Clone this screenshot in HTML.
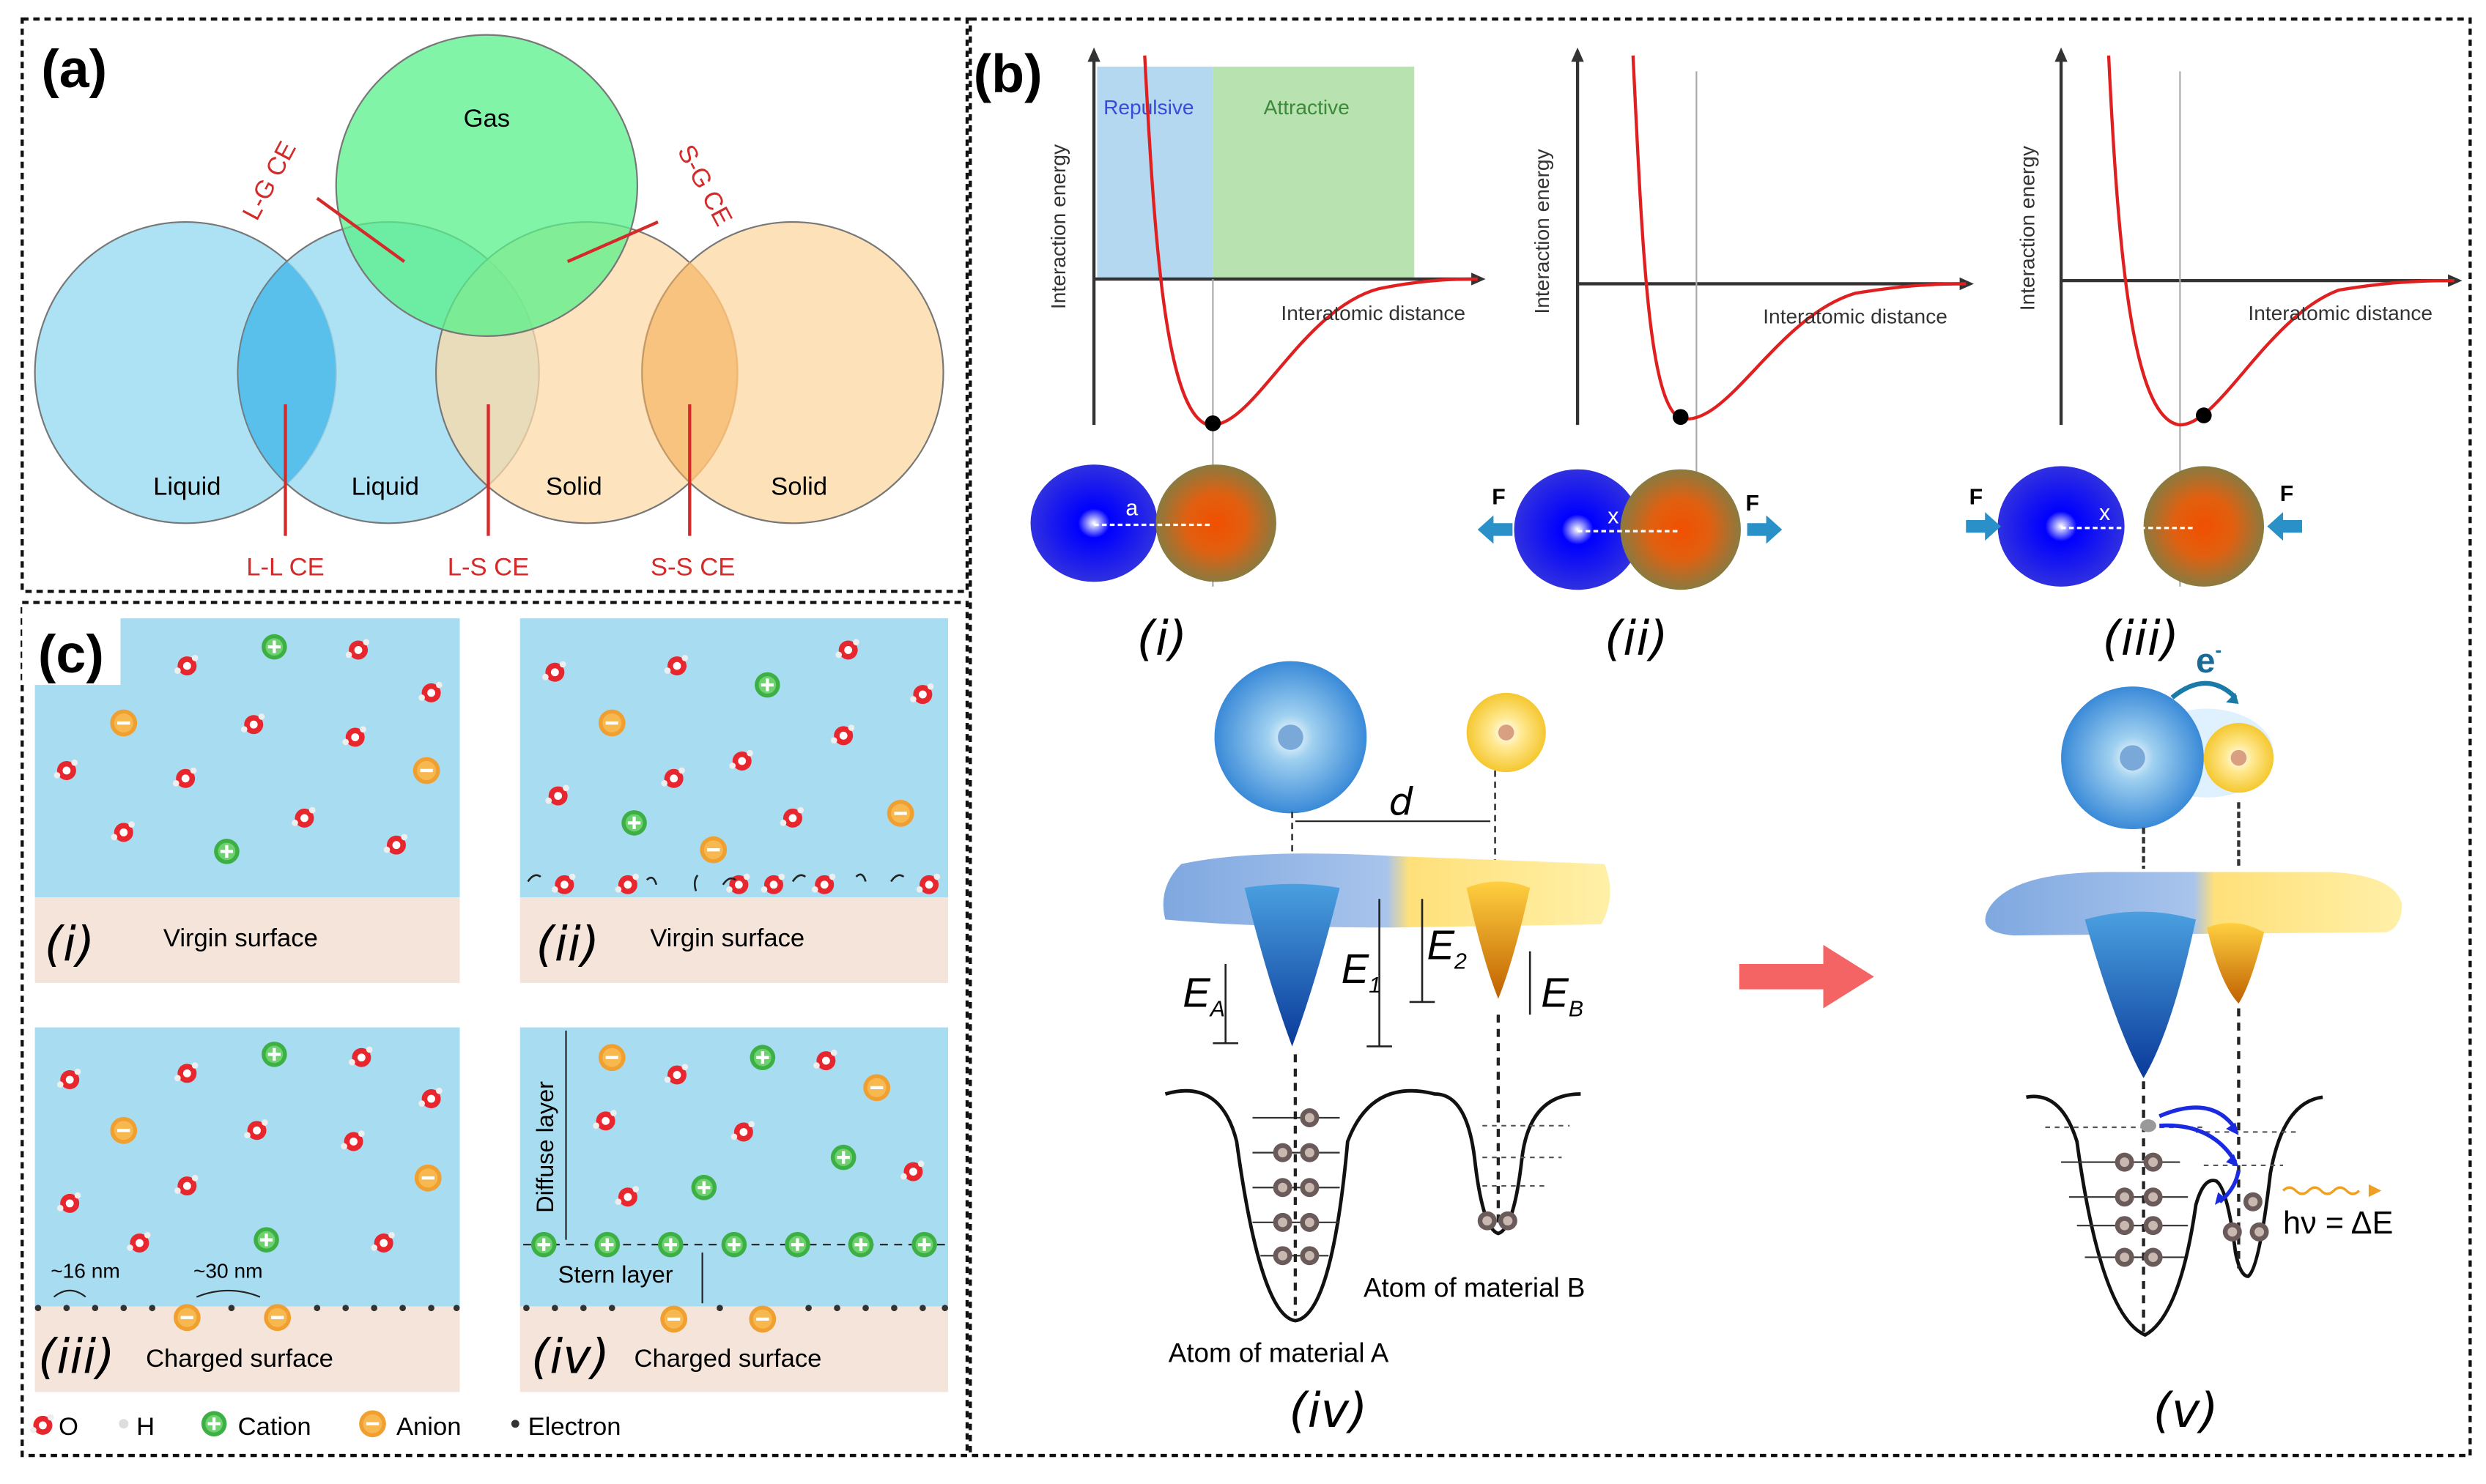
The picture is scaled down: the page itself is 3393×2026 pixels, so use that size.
<!DOCTYPE html>
<html><head><meta charset="utf-8"><style>
html,body{margin:0;padding:0;background:#fff;}
svg{display:block;}
text{font-family:"Liberation Sans",sans-serif;}
.it{font-family:"DejaVu Sans","Liberation Sans",sans-serif;font-style:italic;}
</style></head><body>
<svg width="3393" height="2026" viewBox="0 0 1568 936" preserveAspectRatio="none" xmlns="http://www.w3.org/2000/svg">
<defs>
<radialGradient id="gb"><stop offset="0" stop-color="#fff"/><stop offset="0.25" stop-color="#0000ff"/><stop offset="1" stop-color="#3030e0"/></radialGradient>
<radialGradient id="go"><stop offset="0" stop-color="#f05000"/><stop offset="0.5" stop-color="#e06010"/><stop offset="1" stop-color="#8a7a40"/></radialGradient>
<radialGradient id="gbl"><stop offset="0" stop-color="#fff"/><stop offset="0.3" stop-color="#9fd0f0"/><stop offset="1" stop-color="#3a8ad8"/></radialGradient>
<radialGradient id="gy"><stop offset="0" stop-color="#fff"/><stop offset="0.4" stop-color="#ffe890"/><stop offset="1" stop-color="#f5c830"/></radialGradient>
<linearGradient id="gsurf" x1="0" x2="1"><stop offset="0" stop-color="#7fa8e0"/><stop offset="0.5" stop-color="#a8c4ec"/><stop offset="0.55" stop-color="#ffe07a"/><stop offset="1" stop-color="#fff0a8"/></linearGradient>
<linearGradient id="gwa" x1="0" y1="0" x2="0" y2="1"><stop offset="0" stop-color="#4aa0e0"/><stop offset="1" stop-color="#0a3a9a"/></linearGradient>
<linearGradient id="gwb" x1="0" y1="0" x2="0" y2="1"><stop offset="0" stop-color="#ffd040"/><stop offset="1" stop-color="#c06000"/></linearGradient>
<g id="w"><circle r="6" fill="#e8262e"/><circle r="2.5" fill="#fff"/><circle cx="-6" cy="3" r="2" fill="#eee"/><circle cx="5" cy="-5" r="2" fill="#eee"/></g>
<g id="cat"><circle r="8" fill="#3cb044"/><circle r="5.5" fill="#6fd070"/><path d="M-4 0H4M0 -4V4" stroke="#fff" stroke-width="2"/></g>
<g id="an"><circle r="8.5" fill="#f0a030"/><circle r="6" fill="#f8b850"/><path d="M-4 0H4" stroke="#fff" stroke-width="2"/></g>
<g id="el"><circle r="6" fill="#6a5a5a"/><circle r="3" fill="#c8b8b0"/></g>
</defs>

<g fill="none" stroke="#111" stroke-width="2" stroke-dasharray="4,3">
<rect x="14" y="12" width="596" height="361"/>
<rect x="14" y="380" width="596" height="538"/>
<rect x="612" y="12" width="946" height="906"/>
</g>

<g stroke="#777" stroke-width="1">
<circle cx="117" cy="235" r="95" fill="#9fdcf2" fill-opacity="0.85"/>
<circle cx="245" cy="235" r="95" fill="#9fdcf2" fill-opacity="0.85"/>
<circle cx="370" cy="235" r="95" fill="#fcd9a8" fill-opacity="0.75"/>
<circle cx="500" cy="235" r="95" fill="#fcd9a8" fill-opacity="0.8"/>
<circle cx="307" cy="117" r="95" fill="#58f08a" fill-opacity="0.75"/>
</g>
<path d="M181 165 A95 95 0 0 1 181 305 A95 95 0 0 1 181 165Z" fill="#3ab4e8" opacity="0.7"/>
<path d="M435 165 A95 95 0 0 1 435 305 A95 95 0 0 1 435 165Z" fill="#f5b060" opacity="0.6"/>
<text x="26" y="55" font-size="34" font-weight="bold">(a)</text>
<text x="307" y="80" font-size="16" text-anchor="middle">Gas</text>
<text x="118" y="312" font-size="16" text-anchor="middle">Liquid</text>
<text x="243" y="312" font-size="16" text-anchor="middle">Liquid</text>
<text x="362" y="312" font-size="16" text-anchor="middle">Solid</text>
<text x="504" y="312" font-size="16" text-anchor="middle">Solid</text>
<g stroke="#d42a2a" stroke-width="2">
<line x1="180" y1="255" x2="180" y2="338"/><line x1="308" y1="255" x2="308" y2="338"/><line x1="435" y1="255" x2="435" y2="338"/>
<line x1="200" y1="125" x2="255" y2="165"/><line x1="415" y1="140" x2="358" y2="165"/>
</g>
<g fill="#d42a2a" font-size="16">
<text x="180" y="363" text-anchor="middle">L-L CE</text><text x="308" y="363" text-anchor="middle">L-S CE</text><text x="437" y="363" text-anchor="middle">S-S CE</text>
<text transform="translate(162,140) rotate(-62)">L-G CE</text>
<text transform="translate(427,95) rotate(62)">S-G CE</text>
</g>

<g>
<rect x="22" y="390" width="268" height="176" fill="#a8dcf0"/><rect x="22" y="566" width="268" height="54" fill="#f5e4da"/>
<rect x="328" y="390" width="270" height="176" fill="#a8dcf0"/><rect x="328" y="566" width="270" height="54" fill="#f5e4da"/>
<rect x="22" y="648" width="268" height="176" fill="#a8dcf0"/><rect x="22" y="824" width="268" height="54" fill="#f5e4da"/>
<rect x="328" y="648" width="270" height="176" fill="#a8dcf0"/><rect x="328" y="824" width="270" height="54" fill="#f5e4da"/>
<rect x="14" y="382" width="62" height="50" fill="#fff"/>
</g>
<text x="24" y="424" font-size="34" font-weight="bold">(c)</text>
<use href="#w" x="118" y="420"/><use href="#w" x="226" y="410"/><use href="#w" x="272" y="437"/><use href="#w" x="42" y="486"/><use href="#w" x="117" y="491"/><use href="#w" x="160" y="457"/><use href="#w" x="224" y="465"/><use href="#w" x="78" y="525"/><use href="#w" x="192" y="516"/><use href="#w" x="250" y="533"/>
<use href="#cat" x="173" y="408"/><use href="#cat" x="143" y="537"/><use href="#an" x="78" y="456"/><use href="#an" x="269" y="486"/>
<use href="#w" x="350" y="424"/><use href="#w" x="427" y="420"/><use href="#w" x="535" y="410"/><use href="#w" x="582" y="438"/><use href="#w" x="352" y="502"/><use href="#w" x="425" y="491"/><use href="#w" x="532" y="464"/><use href="#w" x="500" y="516"/><use href="#w" x="468" y="480"/>
<use href="#cat" x="484" y="432"/><use href="#cat" x="400" y="519"/><use href="#an" x="386" y="456"/><use href="#an" x="568" y="513"/><use href="#an" x="450" y="536"/>
<use href="#w" x="356" y="558"/><use href="#w" x="396" y="558"/><use href="#w" x="466" y="558"/><use href="#w" x="488" y="558"/><use href="#w" x="520" y="558"/><use href="#w" x="586" y="558"/>
<g fill="none" stroke="#222" stroke-width="1.2"><path d="M333 556 q4 -6 8 -3"/><path d="M408 555 q4 -4 6 3"/><path d="M440 552 q-3 4 -1 10"/><path d="M456 558 q4 -6 8 -3"/><path d="M500 556 q4 -6 8 -3"/><path d="M540 553 q4 -4 6 3"/><path d="M562 556 q4 -6 8 -3"/></g>
<use href="#w" x="44" y="681"/><use href="#w" x="118" y="677"/><use href="#w" x="228" y="667"/><use href="#w" x="272" y="693"/><use href="#w" x="162" y="713"/><use href="#w" x="223" y="720"/><use href="#w" x="118" y="748"/><use href="#w" x="44" y="759"/><use href="#w" x="88" y="784"/><use href="#w" x="242" y="784"/>
<use href="#cat" x="173" y="665"/><use href="#cat" x="168" y="782"/><use href="#an" x="78" y="713"/><use href="#an" x="270" y="743"/>
<use href="#an" x="118" y="831"/><use href="#an" x="175" y="831"/>
<g fill="#333"><circle cx="24" cy="825" r="2"/><circle cx="42" cy="825" r="2"/><circle cx="60" cy="825" r="2"/><circle cx="78" cy="825" r="2"/><circle cx="96" cy="825" r="2"/><circle cx="146" cy="825" r="2"/><circle cx="200" cy="825" r="2"/><circle cx="218" cy="825" r="2"/><circle cx="236" cy="825" r="2"/><circle cx="254" cy="825" r="2"/><circle cx="272" cy="825" r="2"/><circle cx="288" cy="825" r="2"/>
<circle cx="332" cy="825" r="2"/><circle cx="350" cy="825" r="2"/><circle cx="368" cy="825" r="2"/><circle cx="386" cy="825" r="2"/><circle cx="454" cy="825" r="2"/><circle cx="510" cy="825" r="2"/><circle cx="528" cy="825" r="2"/><circle cx="546" cy="825" r="2"/><circle cx="564" cy="825" r="2"/><circle cx="582" cy="825" r="2"/><circle cx="596" cy="825" r="2"/></g>
<g fill="none" stroke="#222" stroke-width="1"><path d="M34 818 q10 -8 20 0"/><path d="M124 818 q20 -8 40 0"/></g>
<text x="32" y="806" font-size="13">~16 nm</text><text x="122" y="806" font-size="13">~30 nm</text>
<use href="#an" x="386" y="667"/><use href="#an" x="553" y="686"/><use href="#cat" x="481" y="667"/><use href="#cat" x="444" y="749"/><use href="#cat" x="532" y="730"/>
<use href="#w" x="427" y="678"/><use href="#w" x="521" y="669"/><use href="#w" x="382" y="707"/><use href="#w" x="469" y="714"/><use href="#w" x="396" y="755"/><use href="#w" x="576" y="739"/>
<line x1="330" y1="785" x2="598" y2="785" stroke="#222" stroke-dasharray="5,4"/>
<use href="#cat" x="343" y="785"/><use href="#cat" x="383" y="785"/><use href="#cat" x="423" y="785"/><use href="#cat" x="463" y="785"/><use href="#cat" x="503" y="785"/><use href="#cat" x="543" y="785"/><use href="#cat" x="583" y="785"/>
<use href="#an" x="425" y="832"/><use href="#an" x="481" y="832"/>
<g stroke="#222" stroke-width="1"><line x1="357" y1="650" x2="357" y2="782"/><line x1="443" y1="790" x2="443" y2="822"/></g>
<text transform="translate(349,765) rotate(-90)" font-size="15">Diffuse layer</text>
<text x="352" y="809" font-size="15">Stern layer</text>
<text x="28" y="606" font-size="30" class="it">(i)</text><text x="103" y="597" font-size="16">Virgin surface</text>
<text x="338" y="606" font-size="30" class="it">(ii)</text><text x="410" y="597" font-size="16">Virgin surface</text>
<text x="24" y="866" font-size="30" class="it">(iii)</text><text x="92" y="862" font-size="16">Charged surface</text>
<text x="335" y="866" font-size="30" class="it">(iv)</text><text x="400" y="862" font-size="16">Charged surface</text>
<use href="#w" x="27" y="899"/><text x="37" y="905" font-size="16">O</text>
<circle cx="78" cy="898" r="3" fill="#ddd"/><text x="86" y="905" font-size="16">H</text>
<use href="#cat" x="135" y="898"/><text x="150" y="905" font-size="16">Cation</text>
<use href="#an" x="235" y="898"/><text x="250" y="905" font-size="16">Anion</text>
<circle cx="325" cy="898" r="2.5" fill="#333"/><text x="333" y="905" font-size="16">Electron</text>

<text x="614" y="58" font-size="34" font-weight="bold">(b)</text>
<rect x="692" y="42" width="73" height="134" fill="#b3d8f0"/><rect x="765" y="42" width="127" height="134" fill="#b8e2b0"/>
<text x="696" y="72" font-size="13" fill="#3a4ad8">Repulsive</text><text x="797" y="72" font-size="13" fill="#3a8a3a">Attractive</text>
<g stroke="#333" stroke-width="2" fill="none">
<path d="M690 35V268"/><path d="M690 176H932"/>
<path d="M995 35V268"/><path d="M995 179H1240"/>
<path d="M1300 35V268"/><path d="M1300 177H1548"/>
</g>
<g fill="#333"><path d="M690 30l-4 9h8z"/><path d="M937 176l-9 -4v8z"/><path d="M995 30l-4 9h8z"/><path d="M1245 179l-9 -4v8z"/><path d="M1300 30l-4 9h8z"/><path d="M1553 177l-9 -4v8z"/></g>
<g stroke="#aaa" stroke-width="1"><line x1="765" y1="176" x2="765" y2="370"/><line x1="1070" y1="45" x2="1070" y2="370"/><line x1="1375" y1="45" x2="1375" y2="370"/></g>
<g fill="none" stroke="#e02020" stroke-width="2">
<path d="M722 35 C728 150 735 260 762 268 C790 272 820 195 870 182 C900 176 920 176 932 176"/>
<path d="M1030 35 C1036 160 1040 255 1060 264 C1090 270 1120 200 1170 185 C1200 180 1220 179 1240 179"/>
<path d="M1330 35 C1336 160 1345 265 1375 268 C1400 268 1430 200 1475 183 C1505 178 1525 177 1548 177"/>
</g>
<circle cx="765" cy="267" r="5" fill="#000"/><circle cx="1060" cy="263" r="5" fill="#000"/><circle cx="1390" cy="262" r="5" fill="#000"/>
<g font-size="13" fill="#333">
<text transform="translate(672,195) rotate(-90)">Interaction energy</text>
<text transform="translate(977,198) rotate(-90)">Interaction energy</text>
<text transform="translate(1283,196) rotate(-90)">Interaction energy</text>
<text x="808" y="202">Interatomic distance</text><text x="1112" y="204">Interatomic distance</text><text x="1418" y="202">Interatomic distance</text>
</g>
<ellipse cx="690" cy="330" rx="40" ry="37" fill="url(#gb)"/><ellipse cx="767" cy="330" rx="38" ry="37" fill="url(#go)"/>
<ellipse cx="995" cy="334" rx="40" ry="38" fill="url(#gb)"/><ellipse cx="1060" cy="334" rx="38" ry="38" fill="url(#go)"/>
<ellipse cx="1300" cy="332" rx="40" ry="38" fill="url(#gb)"/><ellipse cx="1390" cy="332" rx="38" ry="38" fill="url(#go)"/>
<g stroke="#fff" stroke-width="1.5" stroke-dasharray="3,2"><line x1="690" y1="331" x2="764" y2="331"/><line x1="995" y1="335" x2="1060" y2="335"/><line x1="1300" y1="333" x2="1385" y2="333"/></g>
<text x="710" y="325" font-size="14" fill="#fff">a</text><text x="1014" y="330" font-size="14" fill="#fff">x</text><text x="1324" y="328" font-size="14" fill="#fff">x</text>
<g fill="#2a90c8">
<path d="M932 334l10 -9v5h12v8h-12v5z"/><path d="M1124 334l-10 -9v5h-12v8h12v5z"/>
<path d="M1262 332l-10 -9v5h-12v8h12v5z"/><path d="M1430 332l10 -9v5h12v8h-12v5z"/>
</g>
<g font-size="14" font-weight="bold"><text x="941" y="318">F</text><text x="1101" y="322">F</text><text x="1242" y="318">F</text><text x="1438" y="316">F</text></g>
<text x="717" y="413" font-size="30" class="it">(i)</text><text x="1012" y="413" font-size="30" class="it">(ii)</text><text x="1326" y="413" font-size="30" class="it">(iii)</text>

<circle cx="814" cy="465" r="48" fill="url(#gbl)"/><circle cx="950" cy="462" r="25" fill="url(#gy)"/>
<circle cx="814" cy="465" r="8" fill="#7aa8d8"/><circle cx="950" cy="462" r="5" fill="#d8a080"/>
<g stroke="#333" stroke-dasharray="4,3" stroke-width="1.2"><line x1="815" y1="512" x2="815" y2="560"/><line x1="943" y1="486" x2="943" y2="560"/></g>
<line x1="817" y1="518" x2="940" y2="518" stroke="#222"/>
<text x="876" y="514" font-size="24" class="it">d</text>
<path d="M745 545 Q790 535 880 540 L1012 545 Q1020 565 1010 583 L880 585 Q790 585 735 580 Q730 560 745 545Z" fill="url(#gsurf)"/>
<path d="M785 560 Q815 555 845 560 Q830 620 815 660 Q800 620 785 560Z" fill="url(#gwa)"/>
<path d="M925 560 Q945 552 965 560 Q955 605 945 630 Q935 605 925 560Z" fill="url(#gwb)"/>
<g stroke="#222" stroke-width="1.2"><line x1="773" y1="608" x2="773" y2="658"/><line x1="870" y1="567" x2="870" y2="660"/><line x1="897" y1="567" x2="897" y2="632"/><line x1="965" y1="600" x2="965" y2="640"/><line x1="765" y1="658" x2="781" y2="658"/><line x1="862" y1="660" x2="878" y2="660"/><line x1="889" y1="632" x2="905" y2="632"/></g>
<g font-size="26" class="it"><text x="746" y="635">E<tspan font-size="14" dy="6">A</tspan></text><text x="846" y="620">E<tspan font-size="14" dy="6">1</tspan></text><text x="900" y="605">E<tspan font-size="14" dy="6">2</tspan></text><text x="972" y="635">E<tspan font-size="14" dy="6">B</tspan></text></g>
<path d="M735 690 Q770 680 780 720 Q795 830 817 833 Q840 830 850 720 Q865 680 905 690 Q925 690 930 730 Q935 775 945 778 Q955 775 960 730 Q965 690 997 690" fill="none" stroke="#111" stroke-width="2.2"/>
<g stroke="#333" stroke-width="1"><line x1="790" y1="705" x2="845" y2="705"/><line x1="790" y1="727" x2="845" y2="727"/><line x1="790" y1="749" x2="845" y2="749"/><line x1="790" y1="771" x2="845" y2="771"/><line x1="795" y1="792" x2="838" y2="792"/></g>
<g stroke="#555" stroke-dasharray="3,3"><line x1="935" y1="710" x2="990" y2="710"/><line x1="935" y1="730" x2="985" y2="730"/><line x1="935" y1="748" x2="975" y2="748"/></g>
<g stroke="#222" stroke-width="2" stroke-dasharray="5,4"><line x1="817" y1="665" x2="817" y2="830"/><line x1="945" y1="640" x2="945" y2="775"/></g>
<use href="#el" x="826" y="705"/><use href="#el" x="809" y="727"/><use href="#el" x="826" y="727"/><use href="#el" x="809" y="749"/><use href="#el" x="826" y="749"/><use href="#el" x="809" y="771"/><use href="#el" x="826" y="771"/><use href="#el" x="809" y="792"/><use href="#el" x="826" y="792"/><use href="#el" x="938" y="770"/><use href="#el" x="951" y="770"/>
<text x="860" y="818" font-size="17">Atom of material B</text>
<text x="737" y="859" font-size="17">Atom of material A</text>
<text x="813" y="900" font-size="30" class="it">(iv)</text>
<path d="M1097 608H1150V596L1182 616L1150 636V624H1097Z" fill="#f46464"/>
<ellipse cx="1392" cy="475" rx="42" ry="28" fill="#dff0ff"/>
<circle cx="1345" cy="478" r="45" fill="url(#gbl)"/><circle cx="1412" cy="478" r="22" fill="url(#gy)"/>
<circle cx="1345" cy="478" r="8" fill="#7aa8d8"/><circle cx="1412" cy="478" r="5" fill="#d8a080"/>
<path d="M1370 440 Q1392 422 1410 440" fill="none" stroke="#1a7aa8" stroke-width="3"/><path d="M1412 444l-8 -1l6 -6z" fill="#1a7aa8"/>
<text x="1385" y="424" font-size="22" font-weight="bold" fill="#1a6a98">e<tspan font-size="12" dy="-10">-</tspan></text>
<g stroke="#333" stroke-width="2" stroke-dasharray="4,2"><line x1="1352" y1="522" x2="1352" y2="548"/><line x1="1412" y1="506" x2="1412" y2="548"/></g>
<path d="M1255 572 Q1270 550 1330 550 L1470 550 Q1510 552 1515 570 Q1515 585 1505 588 L1270 590 Q1245 588 1255 572Z" fill="url(#gsurf)"/>
<path d="M1315 580 Q1350 570 1385 580 Q1370 650 1352 680 Q1335 650 1315 580Z" fill="url(#gwa)"/>
<path d="M1392 585 Q1410 578 1428 588 Q1420 620 1412 633 Q1400 620 1392 585Z" fill="url(#gwb)"/>
<path d="M1278 692 Q1300 688 1310 720 Q1325 830 1353 842 Q1375 830 1385 760 Q1390 742 1398 745 Q1405 750 1410 790 Q1413 805 1418 805 Q1425 800 1432 740 Q1440 695 1465 692" fill="none" stroke="#111" stroke-width="2.2"/>
<g stroke="#333" stroke-width="1"><line x1="1300" y1="733" x2="1375" y2="733"/><line x1="1305" y1="755" x2="1380" y2="755"/><line x1="1310" y1="773" x2="1380" y2="773"/><line x1="1315" y1="793" x2="1378" y2="793"/></g>
<g stroke="#555" stroke-dasharray="3,3"><line x1="1290" y1="711" x2="1390" y2="711"/><line x1="1385" y1="714" x2="1450" y2="714"/><line x1="1390" y1="735" x2="1440" y2="735"/></g>
<g stroke="#222" stroke-width="2" stroke-dasharray="5,4"><line x1="1352" y1="682" x2="1352" y2="840"/><line x1="1412" y1="636" x2="1412" y2="800"/></g>
<ellipse cx="1355" cy="710" rx="5" ry="4" fill="#999"/>
<use href="#el" x="1340" y="733"/><use href="#el" x="1358" y="733"/><use href="#el" x="1340" y="755"/><use href="#el" x="1358" y="755"/><use href="#el" x="1340" y="773"/><use href="#el" x="1358" y="773"/><use href="#el" x="1340" y="793"/><use href="#el" x="1358" y="793"/><use href="#el" x="1421" y="758"/><use href="#el" x="1408" y="777"/><use href="#el" x="1425" y="777"/>
<g fill="none" stroke="#1a2ae0" stroke-width="2.5"><path d="M1362 704 Q1395 690 1410 712"/><path d="M1362 710 Q1395 708 1410 733"/><path d="M1412 738 Q1410 750 1400 758"/></g>
<g fill="#1a2ae0"><path d="M1412 716l-8 -4l6 -4z"/><path d="M1412 736l-8 -3l5 -5z"/><path d="M1397 760l2 -8l5 4z"/></g>
<path d="M1440 751 q4 -4 8 0 t8 0 t8 0 t8 0 t8 0 t8 0" fill="none" stroke="#f0a020" stroke-width="1.5"/><path d="M1502 751l-8 -4v8z" fill="#f0a020"/>
<text x="1440" y="778" font-size="20" font-family="Liberation Serif,serif">hν = ΔE</text>
<text x="1358" y="900" font-size="30" class="it">(v)</text>
</svg>
</body></html>
